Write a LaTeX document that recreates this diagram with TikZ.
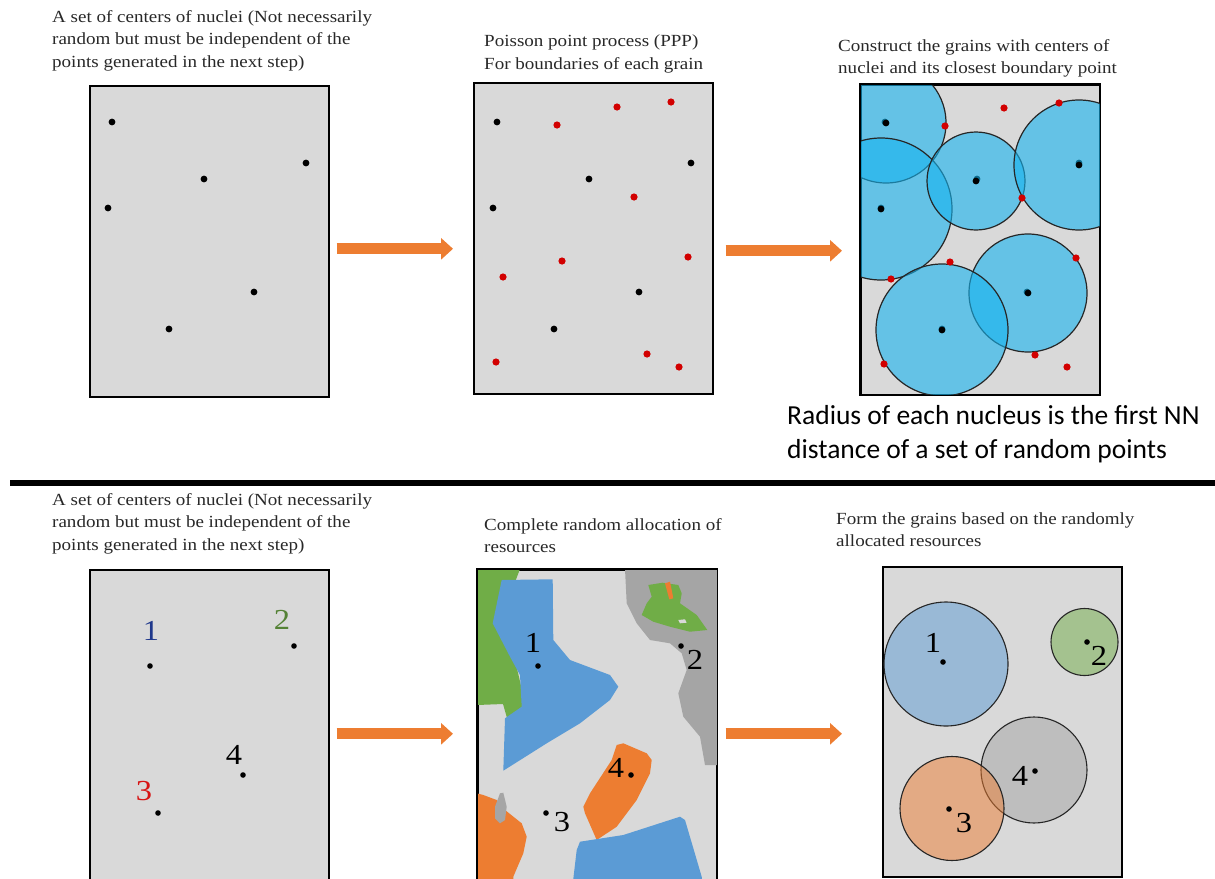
\documentclass[tikz,border=0pt]{standalone}
\usepackage{fontspec}
\setmainfont{Liberation Serif}
\newfontfamily\stepfont[FakeStretch=1.12]{Liberation Serif}
\newfontfamily\notefont{Carlito}
\usetikzlibrary{arrows.meta,positioning}

\definecolor{panelgray}{RGB}{217,217,217}
\definecolor{captext}{RGB}{40,40,40}
\definecolor{grainblue}{RGB}{22,180,239}
\definecolor{offblue}{RGB}{91,155,213}
\definecolor{offorange}{RGB}{237,125,49}
\definecolor{offgreen}{RGB}{112,173,71}
\definecolor{offgray}{RGB}{165,165,165}
\definecolor{lblblue}{RGB}{31,56,140}
\definecolor{lblgreen}{RGB}{84,130,53}
\definecolor{lblred}{RGB}{215,20,20}
\definecolor{ptred}{RGB}{210,0,0}

\tikzset{
  panel/.style = {draw, line width=1.6pt, fill=panelgray, anchor=north west,
    inner sep=0pt, minimum width=#1},
  panel/.default = 239pt,
  steptext/.style = {anchor=north west, align=left, inner sep=0pt, text=captext,
    font=\stepfont\fontsize{17}{22.5}\selectfont},
  flow/.style = {draw=offorange, line width=11pt,
    -{Triangle[length=12pt,width=21pt]}},
  num/.style = {inner sep=0pt, font=\stepfont\fontsize{29}{29}\selectfont},
  grain/.style = {draw=black!85, line width=1.2pt, fill=grainblue, fill opacity=0.6},
  ball/.style = {draw=black!85, line width=1.1pt, fill=#1, fill opacity=0.5}
}

\begin{document}
\begin{tikzpicture}[x=1pt, y=-1pt]
  \useasboundingbox (0,0) rectangle (1215,878);

  % ---- top row ----
  \node[steptext] (t1) at (52,10) {A set of centers of nuclei (Not necessarily\\
    random but must be independent of the\\points generated in the next step)};
  \node[steptext] (t2) at (484,35) {Poisson point process (PPP)\\For boundaries of each grain};
  \node[steptext] (t3) at (838,39) {Construct the grains with centers of\\
    nuclei and its closest boundary point};

  \node[panel, minimum height=311pt] (p1) at (89,85) {};
  \node[panel, minimum height=311pt] (p2) at (473,82) {};
  \node[panel, minimum height=310pt] (p3) at (860,84) {};

  % nuclei
  \foreach \dx in {0, 385, 773}
    \foreach \x/\y in {112/122, 306/163, 204/179, 108/208, 254/292, 169/329}
      \fill ({\x+\dx},\y) circle (3.4pt);

  % grains, clipped to the panel
  \begin{scope}
    \clip (p3.north west) rectangle (p3.south east);
    \foreach \x/\y/\r in {886/123/60, 881/209/71, 976/181/49,
                          1079/165/65, 1028/293/59, 942/330/66}
      \draw[grain] (\x,\y) circle (\r pt);
  \end{scope}
  \draw[line width=1.6pt] (p3.north west) rectangle (p3.south east);
  \foreach \x/\y in {886/123, 881/209, 976/181, 1079/165, 1028/293, 942/330}
    \fill (\x,\y) circle (3.4pt);

  % boundary points
  \foreach \x/\y in {617/107, 671/102, 557/125, 634/197, 562/261,
                     688/257, 503/277, 647/354, 679/367, 496/362}
    \fill[ptred] (\x,\y) circle (3.6pt);
  \foreach \x/\y in {1004/108, 1059/103, 945/126, 1022/198, 950/262,
                     1076/258, 891/279, 1035/355, 1067/367, 884/364}
    \fill[ptred] (\x,\y) circle (3.6pt);

  \draw[flow] ([xshift=7pt,yshift=-7.5pt]p1.east) -- ([xshift=-20pt,yshift=-10.5pt]p2.west);
  \draw[flow] ([xshift=12pt,yshift=-12.5pt]p2.east) -- ([xshift=-18pt,yshift=-11pt]p3.west);

  \node[anchor=north west, align=left, inner sep=0pt,
    font=\notefont\fontsize{27.5}{34}\selectfont] (note) at (787,405)
    {Radius of each nucleus is the first NN\\distance of a set of random points};

  \coordinate (rulel) at (10,483);
  \coordinate (ruler) at (1215,483);
  \draw[line width=6pt] (rulel) -- (ruler);

  % ---- bottom row ----
  \node[steptext] (t4) at (52,493) {A set of centers of nuclei (Not necessarily\\
    random but must be independent of the\\points generated in the next step)};
  \node[steptext] (t5) at (484,518) {Complete random allocation of\\resources};
  \node[steptext] (t6) at (836,512) {Form the grains based on the randomly\\allocated resources};

  \node[panel, minimum height=320pt] (p4) at (89,569) {};
  \node[panel, minimum height=320pt] (p5) at (477,569) {};
  \node[panel, minimum height=310pt] (p6) at (882,566) {};

  % seeds with coloured numbers
  \foreach \x/\y in {150/666, 294/646, 243/775, 158/813}
    \fill (\x,\y) circle (2.8pt);
  \node[num, text=lblblue] (n1) at (151,631) {1};
  \node[num, text=lblgreen] (n2) at (282,620) {2};
  \node[num] (n4) at (234,755) {4};
  \node[num, text=lblred] (n3) at (144,791) {3};

  % random allocation
  \begin{scope}
    \clip (p5.north west) rectangle (p5.south east);
    \fill[offgreen] (477,569) -- (520,569) -- (512,590) -- (502,620) -- (515,660)
      -- (522,690) -- (523,708) -- (507,718) -- (503,704) -- (477,705) -- cycle;
    \fill[offblue] (501.7,580) -- (552.7,579.3) -- (553.3,640) -- (570,660)
      -- (610,675) -- (618.3,686.7) -- (610,700) -- (580,723.3) -- (546.7,743.3)
      -- (503.3,770.7) -- (505,718.3) -- (521.7,706.7) -- (520,675) -- (510,656.7)
      -- (492.7,623.3) -- cycle;
    \fill[offgray] (625,569) -- (717,569) -- (717,765) -- (705,765) -- (700,736.7)
      -- (683.3,716.7) -- (678.3,693.3) -- (686.7,670) -- (681.7,653.3)
      -- (670,643.3) -- (650,640) -- (636.7,623.3) -- (626.7,603.3) -- cycle;
    \fill[offgreen] (648.3,585) -- (662.7,582.7) -- (678.3,585) -- (681.7,593.3)
      -- (680,603.3) -- (696.7,615) -- (707.3,630) -- (690,631.7) -- (670,626.7)
      -- (653.3,621.7) -- (641.7,615) -- (646.7,603.3) -- (651.7,596.7) -- cycle;
    \fill[offorange] (665,583.3) -- (670,581.7) -- (673.3,598.3) -- (669.3,599.3) -- cycle;
    \fill[panelgray] (678.3,620) -- (685,619.3) -- (686.7,622.7) -- (680,623.3) -- cycle;
    \fill[offorange] (616.7,745) -- (623.3,743.3) -- (646.7,753.3) -- (651.7,760)
      -- (650,773.3) -- (636.7,800) -- (616.7,826.7) -- (596.7,840) -- (585,813.3)
      -- (583.3,806.7) -- (590,793.3) -- (611.7,760) -- cycle;
    \fill[offorange] (476.7,793.3) -- (483.3,795) -- (496.7,800) -- (505,810)
      -- (521.7,823.3) -- (526.7,836.7) -- (523.3,853.3) -- (513.3,876.7)
      -- (513,890) -- (477,890) -- cycle;
    \fill[offgray] (500,793.3) -- (503.3,792.7) -- (506.7,806.7) -- (505,820)
      -- (500,823.3) -- (495,818.3) -- (495,806.7) -- cycle;
    \fill[offblue] (580,841.7) -- (623.3,835) -- (680,816.7) -- (685,820)
      -- (701.7,876.7) -- (703,890) -- (572,890) -- (576.7,850) -- cycle;
  \end{scope}
  \draw[line width=1.6pt] (p5.north west) rectangle (p5.south east);
  \foreach \x/\y in {538/666, 681/646, 631/775, 546/813}
    \fill (\x,\y) circle (2.8pt);
  \node[num] (m1) at (533,643) {1};
  \node[num] (m2) at (695,660) {2};
  \node[num] (m4) at (616,768) {4};
  \node[num] (m3) at (562,822) {3};

  % grains from the allocation
  \draw[ball=offblue] (946,664) circle (62pt);
  \draw[ball=offgreen] (1084.5,642) circle (33.5pt);
  \draw[ball=offgray] (1034,770) circle (53pt);
  \draw[ball=offorange] (952,808.5) circle (52pt);
  \foreach \x/\y in {943/662, 1087/642, 1035/771, 949/809}
    \fill (\x,\y) circle (2.8pt);
  \node[num] (g1) at (933,643) {1};
  \node[num] (g2) at (1099,656) {2};
  \node[num] (g4) at (1020,776) {4};
  \node[num] (g3) at (964,823) {3};

  \draw[flow] ([xshift=7pt,yshift=-4pt]p4.east) -- ([xshift=-24pt,yshift=-4pt]p5.west);
  \draw[flow] ([xshift=8pt,yshift=-4pt]p5.east) -- ([xshift=-40pt,yshift=-12pt]p6.west);
\end{tikzpicture}
\end{document}
